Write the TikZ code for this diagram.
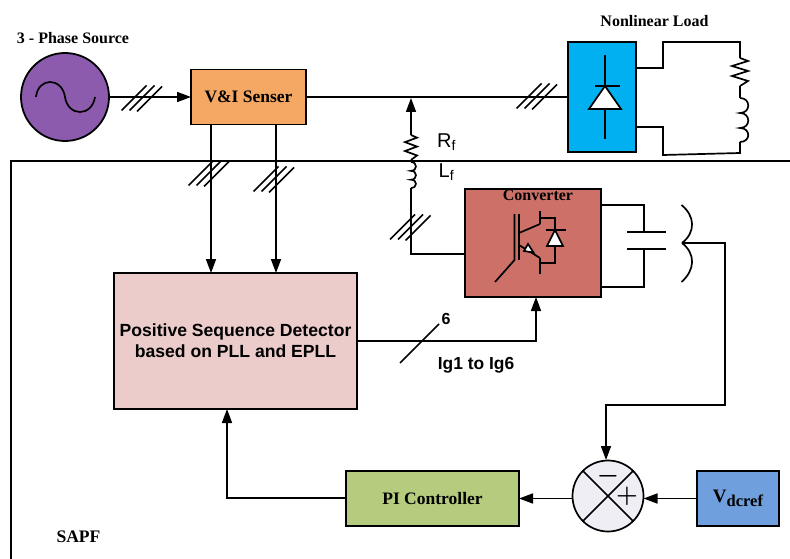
\documentclass[tikz,border=0pt]{standalone}
\usepackage{fontspec}
\setmainfont{Liberation Serif}
\newfontfamily\labelfont{Liberation Sans}
\usetikzlibrary{positioning, arrows.meta}
\definecolor{sourcefill}{HTML}{8C5BAE}
\definecolor{sensorfill}{HTML}{F4A864}
\definecolor{rectfill}{HTML}{00B0F0}
\definecolor{convfill}{HTML}{CC7068}
\definecolor{detectfill}{HTML}{ECCCCB}
\definecolor{pifill}{HTML}{B5CC7F}
\definecolor{reffill}{HTML}{6F9FDC}
\definecolor{sumfill}{HTML}{EFEEF4}
\tikzset{
  threeslash/.pic={
    \draw[wire] (-20.5,12.5) -- (4.5,-12.5);
    \draw[wire] (-12.5,12.5) -- (12.5,-12.5);
    \draw[wire] (-5,13.5) -- (20,-11.5);
  },
  zigzagres/.pic={
    \draw[wire] (0,0) -- (8,3) -- (-8,8) -- (8,13) -- (-8,18) -- (8,23) -- (0,28);
  },
  coilind/.pic={
    \draw[wire] (0,0) .. controls (11,0) and (11,15) .. (0,15)
      .. controls (11,15) and (11,30) .. (0,30)
      .. controls (11,30) and (11,44) .. (0,44);
  }
}
\begin{document}
\begin{tikzpicture}[
    x=1pt, y=-1pt,
    wire/.style={line width=1.7pt, black},
    arr/.style={wire, -{Triangle[length=14pt,width=10pt]}},
    box/.style={rectangle, draw=black, line width=1.8pt, inner sep=0pt, outer sep=0pt,
                align=center, font=\fontsize{17.5}{20}\selectfont\bfseries},
    title/.style={inner sep=0pt, font=\fontsize{16}{18}\selectfont\bfseries},
    sans/.style={inner sep=0pt, font=\fontsize{17.6}{20.7}\selectfont\labelfont\bfseries}
  ]
    \useasboundingbox (0,0) rectangle (790,559);

    \node[circle, draw=black, line width=1.8pt, fill=sourcefill, minimum size=88pt,
          inner sep=0pt, outer sep=0pt] (source) at (65,97) {};
    \node[box, fill=sensorfill, minimum width=115pt, minimum height=55pt, right=82pt of source] (sensor) {V\&I Senser};
    \node[box, fill=rectfill, minimum width=68pt, minimum height=110pt] (rect) at (602,97) {};
    \node[box, fill=convfill, minimum width=136pt, minimum height=108pt] (conv) at (533,243) {};
    \node[box, fill=detectfill, minimum width=243pt, minimum height=136pt, sans] (detect) at (235.5,341)
      {Positive Sequence Detector\\based on PLL and EPLL};
    \node[circle, draw=black, line width=1.7pt, fill=sumfill, minimum size=71pt,
          inner sep=0pt, outer sep=0pt] (sum) at (608,496) {};
    \node[box, fill=pifill, minimum width=173pt, minimum height=55pt] (picontrol) at (432.5,498.5) {PI Controller};
    \node[box, fill=reffill, minimum width=82pt, minimum height=55pt] (vref) at (738,498.5)
      {\fontsize{16.5}{18}\selectfont\raisebox{3pt}{\fontsize{19}{20}\selectfont V}\raisebox{-1pt}{dcref}};

    \node[title] (srclabel) at (73,38) {3 - Phase Source};
    \node[title] (loadlabel) at (654.5,21) {Nonlinear Load};
    \node[title] (convlabel) at (538,195.5) {Converter};
    \node[title, font=\fontsize{17.6}{20}\selectfont\bfseries] (sapflabel) at (78.5,537) {SAPF};
    \node[inner sep=0pt, font=\fontsize{20}{22}\selectfont\labelfont] (rflabel) at (446.5,142) {R\textsubscript{f}};
    \node[inner sep=0pt, font=\fontsize{20}{22}\selectfont\labelfont] (lflabel) at (446.5,172) {L\textsubscript{f}};
    \node[sans, font=\fontsize{16}{18}\selectfont\labelfont\bfseries] (sixlabel) at (446,319) {6};
    \node[sans, font=\fontsize{17.4}{20}\selectfont\labelfont\bfseries] (iglabel) at (476,365) {Ig1 to Ig6};

    % source wave
    \draw[wire] (36,97) .. controls (38,77) and (62,77) .. (65,97)
      .. controls (68,117) and (92,117) .. (95,97);

    % SAPF frame
    \draw[line width=1.8pt] (790,161) -- (11,161) -- (11,559);

    % main line
    \draw[arr] (source) -- (sensor);
    \draw[wire] (sensor) -- (rect);
    \pic at (142,98) {threeslash};
    \pic at (537,96) {threeslash};

    % sensor to detector
    \coordinate (tapa) at (211,125);
    \coordinate (tapb) at (276,125);
    \draw[arr] (tapa) -- (tapa |- detect.north);
    \draw[arr] (tapb) -- (tapb |- detect.north);
    \pic at (209,173) {threeslash};
    \pic at (274,179) {threeslash};

    % filter branch
    \coordinate (flow) at (411,254);
    \coordinate (lbot) at (411,188);
    \coordinate (ltop) at (411,162);
    \coordinate (rbot) at (411,160);
    \coordinate (rtop) at (411,135);
    \draw[wire] (conv.west |- flow) -- (flow) -- (lbot);
    \pic[yscale=0.59, xscale=0.6] at (ltop) {coilind};
    \draw[wire] (ltop) -- (rbot);
    \pic[yscale=0.89, xscale=0.75] at (rtop) {zigzagres};
    \draw[arr] (rtop) -- (411,98);
    \pic at (410.5,227) {threeslash};

    % rectifier symbol
    \coordinate (dtop) at (605,55);
    \coordinate (dbot) at (605,139);
    \draw[wire] (dtop) -- (605,86);
    \draw[wire] (605,109) -- (dbot);
    \draw[wire] (595,86) -- (620,86);
    \draw[wire, fill=white] (605,86) -- (621,109) -- (589,109) -- cycle;

    % load
    \coordinate (loadres) at (740,58);
    \coordinate (loadind) at (740,98);
    \draw[wire] (rect.east |- 0,68) -- (663,68) -- (663,42) -- (740,42) -- (loadres);
    \pic at (loadres) {zigzagres};
    \draw[wire] (740,86) -- (loadind);
    \pic at (loadind) {coilind};
    \draw[wire] (740,142) -- (740,153) -- (663,155) -- (663,127) -- (rect.east |- 0,127);

    % switch symbol
    \draw[wire] (514.5,214) -- (514.5,260) -- (495,282);
    \draw[wire] (518.7,214) -- (518.7,260);
    \draw[wire] (519,233) -- (540,224);
    \draw[wire] (540,211) -- (540,224);
    \draw[wire] (540,218) -- (555,218) -- (555,263) -- (540,263);
    \draw[wire] (519,245) -- (540,258);
    \draw[wire] (540,258) -- (540,274);
    \draw[wire, fill=white] (528,244) -- (533.5,252.5) -- (524,251) -- cycle;
    \draw[wire] (545.7,230) -- (565.7,230);
    \draw[wire, fill=white] (555,230) -- (563,246) -- (547,246) -- cycle;

    % capacitor and dc link
    \coordinate (capup) at (644,232);
    \coordinate (capdn) at (644,249);
    \coordinate (bus) at (682,243);
    \draw[wire] (conv.east |- 0,205) -- (644,205) -- (capup);
    \draw[wire] (capdn) -- (644,287) -- (conv.east |- 0,287);
    \draw[wire] (627,232) -- (666,232);
    \draw[wire] (627,249) -- (666,249);
    \draw[wire] (bus) .. controls (696,232) and (695,216) .. (681.5,205);
    \draw[wire] (bus) .. controls (696,254) and (695,270) .. (681.5,282);
    \draw[arr] (bus) -- (725,243) -- (725,405) -- (606,405) -- (606,460);

    % control loop
    \draw[arr] (vref.west) -- (sum.east |- vref.west);
    \draw[arr] (sum.west |- picontrol.east) -- (picontrol.east);
    \coordinate (fb) at (227,498);
    \draw[arr] (picontrol.west |- fb) -- (fb) -- (fb |- detect.south);
    \coordinate (pulse) at (536,341);
    \draw[arr] (detect.east |- pulse) -- (pulse) -- (pulse |- conv.south);
    \coordinate (sixa) at (400,363);
    \coordinate (sixb) at (439,324);
    \draw[wire] (sixa) -- (sixb);

    % sum junction
    \draw[wire] (sum.45) -- (sum.225);
    \draw[wire] (sum.135) -- (sum.-45);
    \node[inner sep=0pt, font=\fontsize{24}{24}\selectfont\boldmath] (minus) at (608,476.5) {$-$};
    \node[inner sep=0pt, font=\fontsize{24}{24}\selectfont\boldmath] (plus) at (627,496) {$+$};
\end{tikzpicture}
\end{document}
